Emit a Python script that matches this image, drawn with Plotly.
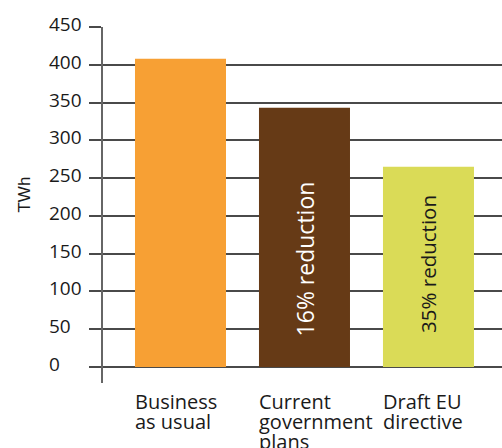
import plotly.graph_objects as go

categories = ["Business<br>as usual", "Current<br>government<br>plans", "Draft EU<br>directive"]
values = [408, 343, 265]
bar_notes = ["", "16% reduction", "35% reduction"]
bar_colors = ["#F7A034", "#663A16", "#DADB57"]
y_ticks = [0, 50, 100, 150, 200, 250, 300, 350, 400, 450]
y_title = "TWh"

BAR_W = 0.734
xs = list(range(len(categories)))

fig = go.Figure()
fig.add_trace(go.Bar(
    x=xs, y=values, width=BAR_W,
    marker=dict(color=bar_colors, line=dict(width=0)),
    hoverinfo="skip",
))

GRID = "#4a4a4a"
fig.update_layout(
    width=502, height=448,
    margin=dict(l=103, r=0, t=27, b=65),
    paper_bgcolor="white", plot_bgcolor="white",
    showlegend=False,
    xaxis=dict(range=[-0.625, 2.593], showgrid=False, zeroline=False,
               showticklabels=False, ticks="", showline=False, fixedrange=True),
    yaxis=dict(range=[-21.2, 450], tickvals=y_ticks, showticklabels=False,
               showgrid=True, gridcolor=GRID, gridwidth=1.5,
               zeroline=False, ticks="outside", ticklen=12, tickcolor=GRID,
               tickwidth=1.5, showline=True, linecolor="#666666", linewidth=1.5),
    font=dict(family="Open Sans", color="#1a1a1a"),
)

# left-aligned tick labels
for t in y_ticks:
    fig.add_annotation(x=-0.1404, xref="paper", y=t, yref="y", text=str(t),
                       showarrow=False, xanchor="left", yanchor="middle", yshift=3,
                       font=dict(family="Open Sans", size=19, color="#1a1a1a"))

# axis title
fig.add_annotation(x=-0.1967, xref="paper", y=0.528, yref="paper", text=y_title,
                   textangle=-90, showarrow=False, xanchor="center", yanchor="middle",
                   font=dict(family="Liberation Sans", size=17, color="#1a1a1a"))

# category labels, left aligned with bar left edge, tight line spacing
for i, c in enumerate(categories):
    for k, line in enumerate(c.split("<br>")):
        fig.add_annotation(x=i - BAR_W / 2, xref="x", y=-0.0084, yref="paper", text=line,
                           showarrow=False, xanchor="left", yanchor="top", align="left",
                           yshift=-20 * k, xshift=-2,
                           font=dict(family="Open Sans", size=20, color="#1a1a1a"))

# bar notes
note_colors = ["white", "white", "#1a1a1a"]
note_sizes = [20, 23, 20.5]
note_y = [0, 143, 137]
for i, n in enumerate(bar_notes):
    if n:
        fig.add_annotation(x=i, xref="x", y=note_y[i], yref="y", text=n, textangle=-90,
                           showarrow=False, xanchor="center", yanchor="middle",
                           font=dict(family="Open Sans", size=note_sizes[i], color=note_colors[i]))

fig.write_html("out.html")
